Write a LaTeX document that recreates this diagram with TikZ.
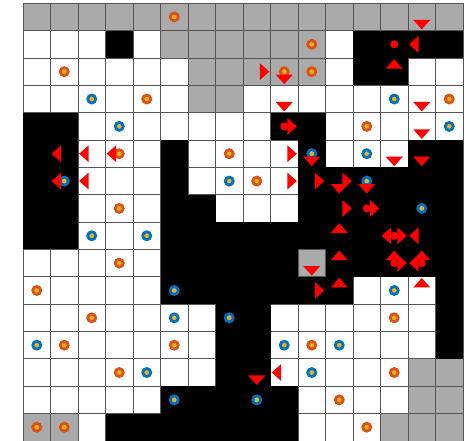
\documentclass[tikz,border=0pt]{standalone}
\definecolor{mgray}{RGB}{170,170,170}
\definecolor{morange}{RGB}{217,83,25}
\definecolor{myellow}{RGB}{237,177,32}
\definecolor{mblue}{RGB}{0,114,189}
\definecolor{gline}{RGB}{85,85,85}
\begin{document}
\begin{tikzpicture}[x=0.75pt,y=-0.75pt,
  graycell/.style={fill=mgray},
  blackcell/.style={fill=black},
  gridline/.style={draw=gline,line width=0.55pt},
  orangering/.style={draw=morange,line width=2.1pt,fill=myellow},
  bluering/.style={draw=mblue,line width=2.1pt,fill=myellow},
  redmark/.style={fill=red,draw=none}]
\useasboundingbox (0,0) rectangle (472,441);
\def\X{23}\def\Y{3.3}\def\W{27.5}\def\H{27.35}
% white background of grid
\fill[white] (\X,\Y) rectangle ({\X+16*\W},{\Y+16*\H});
% gray cells
\foreach \c/\r in {0/0,1/0,2/0,3/0,4/0,5/0,6/0,7/0,8/0,9/0,10/0,11/0,12/0,13/0,14/0,15/0,
  5/1,6/1,7/1,8/1,9/1,10/1,
  6/2,7/2,8/2,9/2,10/2,
  6/3,7/3,
  10/9,
  14/13,15/13,14/14,15/14,
  0/15,1/15,13/15,14/15,15/15}
  \fill[graycell] ({\X+\W*\c},{\Y+\H*\r}) rectangle ++(\W,\H);
% grid lines
\foreach \i in {0,...,16} {
  \draw[gridline] ({\X+\W*\i},\Y) -- ({\X+\W*\i},{\Y+16*\H});
  \draw[gridline] (\X,{\Y+\H*\i}) -- ({\X+16*\W},{\Y+\H*\i});
}
% black cells
\foreach \c/\r in {3/1,12/1,13/1,14/1,15/1,
  12/2,13/2,
  0/4,1/4,9/4,10/4,
  0/5,1/5,5/5,10/5,14/5,15/5,
  0/6,1/6,5/6,10/6,11/6,12/6,13/6,14/6,15/6,
  0/7,1/7,5/7,6/7,10/7,11/7,12/7,13/7,14/7,15/7,
  0/8,1/8,5/8,6/8,7/8,8/8,9/8,10/8,11/8,12/8,13/8,14/8,15/8,
  5/9,6/9,7/9,8/9,9/9,11/9,12/9,13/9,14/9,15/9,
  5/10,6/10,7/10,8/10,9/10,10/10,11/10,15/10,
  7/11,8/11,15/11,
  7/12,8/12,15/12,
  7/13,8/13,
  5/14,6/14,7/14,8/14,9/14,
  3/15,4/15,5/15,6/15,7/15,8/15,9/15}
  \fill[blackcell] ({\X+\W*\c},{\Y+\H*\r}) rectangle ++(\W,\H);
% orange rings
\foreach \c/\r in {5/0,10/1,1/2,9/2,10/2,4/3,15/3,12/4,3/5,7/5,8/6,3/7,3/9,0/10,
  2/11,13/11,1/12,5/12,10/12,3/13,13/13,11/14,0/15,1/15,12/15}
  \draw[orangering] ({\X+\W*(\c+0.5)},{\Y+\H*(\r+0.5)}) circle[radius=3pt];
% blue rings
\foreach \c/\r in {2/3,13/3,3/4,15/4,10/5,12/5,1/6,7/6,12/6,14/7,2/8,4/8,5/10,13/10,
  5/11,7/11,0/12,9/12,11/12,4/13,10/13,5/14,8/14}
  \draw[bluering] ({\X+\W*(\c+0.5)},{\Y+\H*(\r+0.5)}) circle[radius=3pt];
% red dots
\foreach \c/\r in {13/1,9/4,12/7,13/8,13/9,14/9}
  \fill[redmark] ({\X+\W*(\c+0.5)},{\Y+\H*(\r+0.5)}) circle[radius=3pt];
% down triangles (bottom edge)
\foreach \c/\r in {14/0,9/2,9/3,14/3,14/4,10/5,13/5,14/5,11/6,12/6,10/9,8/13}
  \fill[redmark] ({\X+\W*(\c+0.5)},{\Y+\H*(\r+1)-1.2}) -- ({\X+\W*(\c+0.5)-8.5},{\Y+\H*(\r+1)-10.7})
    -- ({\X+\W*(\c+0.5)+8.5},{\Y+\H*(\r+1)-10.7}) -- cycle;
% up triangles (top edge)
\foreach \c/\r in {13/2,11/8,11/9,13/9,14/9,11/10,14/10}
  \fill[redmark] ({\X+\W*(\c+0.5)},{\Y+\H*\r+1.2}) -- ({\X+\W*(\c+0.5)-8.5},{\Y+\H*\r+10.7})
    -- ({\X+\W*(\c+0.5)+8.5},{\Y+\H*\r+10.7}) -- cycle;
% right triangles (right edge)
\foreach \c/\r in {8/2,9/4,9/5,9/6,10/6,11/6,11/7,12/7,13/8,13/9,10/10}
  \fill[redmark] ({\X+\W*(\c+1)-1.2},{\Y+\H*(\r+0.5)}) -- ({\X+\W*(\c+1)-10.7},{\Y+\H*(\r+0.5)-8.5})
    -- ({\X+\W*(\c+1)-10.7},{\Y+\H*(\r+0.5)+8.5}) -- cycle;
% left triangles (left edge)
\foreach \c/\r in {14/1,1/5,2/5,3/5,1/6,2/6,13/8,14/8,14/9,9/13}
  \fill[redmark] ({\X+\W*\c+1.2},{\Y+\H*(\r+0.5)}) -- ({\X+\W*\c+10.7},{\Y+\H*(\r+0.5)-8.5})
    -- ({\X+\W*\c+10.7},{\Y+\H*(\r+0.5)+8.5}) -- cycle;
\end{tikzpicture}
\end{document}
